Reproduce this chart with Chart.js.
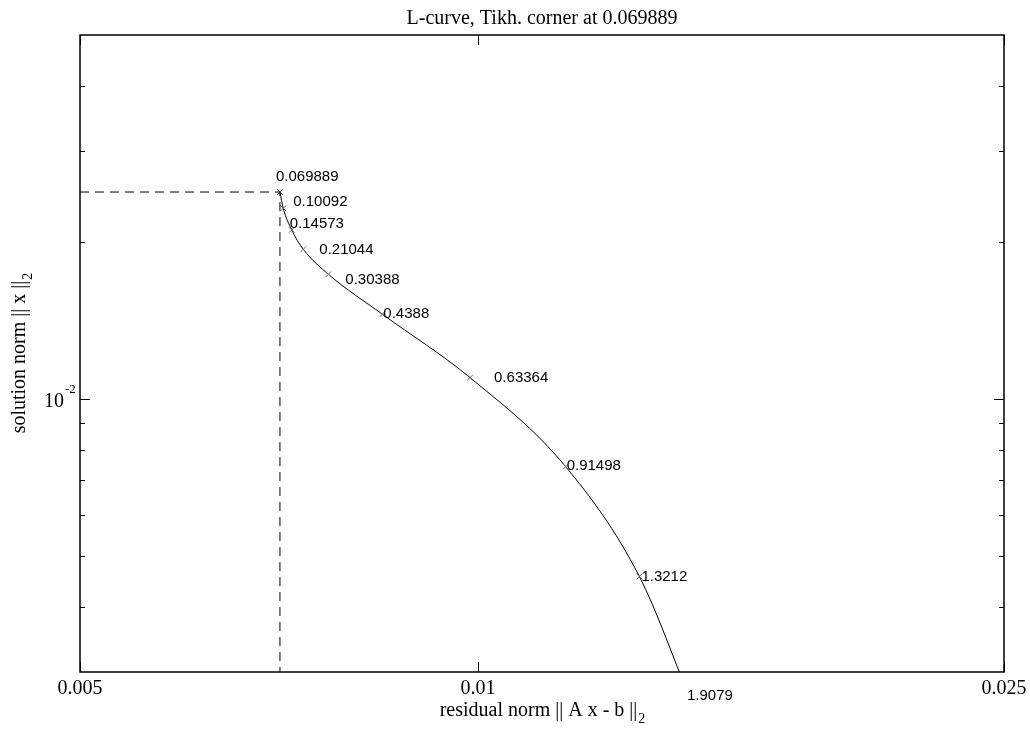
<!DOCTYPE html>
<html>
<head>
<meta charset="utf-8">
<script src="https://cdn.jsdelivr.net/npm/chart.js@4"></script>
<style>
  html, body { margin: 0; padding: 0; background: #fff; }
  #wrap { width: 1030px; height: 731px; position: relative; }
</style>
</head>
<body>
<div id="wrap"><canvas id="lc"></canvas></div>
<script>
// Tikhonov L-curve: residual norm vs. solution norm, labelled by regularization parameter
const regParams    = [0.069889, 0.10092, 0.14573, 0.21044, 0.30388, 0.4388, 0.63364, 0.91498, 1.3212, 1.9079];
const residualNorm = [0.007083, 0.007124, 0.007230, 0.007377, 0.007706, 0.008466, 0.009863, 0.011651, 0.013248, 0.014443];
const solutionNorm = [0.02499, 0.02326, 0.02113, 0.01941, 0.01738, 0.01457, 0.01101, 0.00743, 0.004573, 0.002700];
const cornerIndex = 0;

const xLimits = [0.005, 0.025];
const yLimits = [0.003, 0.05];
const xTicks = [0.005, 0.01, 0.025];
const xTickLabels = ['0.005', '0.01', '0.025'];
const yMajorTicks = [0.01];
const yMajorLabels = [['10', '-2']];
const yMinorTicks = [0.004, 0.005, 0.006, 0.007, 0.008, 0.009, 0.02, 0.03, 0.04];

const titleText = 'L-curve, Tikh. corner at ' + regParams[cornerIndex];
const xLabelText = ['residual norm || A x - b ||', '2'];
const yLabelText = ['solution norm || x ||', '2'];

const SERIF = '"Liberation Serif", "Times New Roman", serif';
const SANS = '"Liberation Sans", Arial, sans-serif';

// pixel nudges for the parameter labels, so they do not sit on the curve
const labelNudge = [[-4, -15], [10, -6], [-2, -6], [16, 1], [17, 6], [1, 0], [24, 0], [1, -1], [2, 0], [-2, 0]];

const curvePoints = residualNorm.map((r, i) => ({ x: r, y: solutionNorm[i] }));
const cornerGuide = [
  { x: xLimits[0], y: solutionNorm[cornerIndex] },
  { x: residualNorm[cornerIndex], y: solutionNorm[cornerIndex] },
  { x: residualNorm[cornerIndex], y: yLimits[0] }
];

function drawSubscripted(ctx, parts, size, subSize, subDrop) {
  ctx.font = size + 'px ' + SERIF;
  const w1 = ctx.measureText(parts[0]).width;
  ctx.font = subSize + 'px ' + SERIF;
  const w2 = ctx.measureText(parts[1]).width;
  const start = -(w1 + w2) / 2;
  ctx.textAlign = 'left';
  ctx.textBaseline = 'alphabetic';
  ctx.font = size + 'px ' + SERIF;
  ctx.fillText(parts[0], start, 0);
  ctx.font = subSize + 'px ' + SERIF;
  ctx.fillText(parts[1], start + w1 + 1, subDrop);
}

const axesFrame = {
  id: 'axesFrame',
  afterDraw(chart) {
    const { ctx, chartArea: a, scales: { x, y } } = chart;
    const majorLen = 10, minorLen = 5;
    ctx.save();
    ctx.strokeStyle = '#000';
    ctx.fillStyle = '#000';

    // inward tick marks on all four sides
    ctx.lineWidth = 1;
    ctx.beginPath();
    xTicks.forEach(v => {
      const px = Math.round(x.getPixelForValue(v)) + 0.5;
      ctx.moveTo(px, a.bottom); ctx.lineTo(px, a.bottom - majorLen);
      ctx.moveTo(px, a.top); ctx.lineTo(px, a.top + majorLen);
    });
    yMajorTicks.forEach(v => {
      const py = Math.round(y.getPixelForValue(v)) + 0.5;
      ctx.moveTo(a.left, py); ctx.lineTo(a.left + majorLen, py);
      ctx.moveTo(a.right, py); ctx.lineTo(a.right - majorLen, py);
    });
    yMinorTicks.forEach(v => {
      const py = Math.round(y.getPixelForValue(v)) + 0.5;
      ctx.moveTo(a.left, py); ctx.lineTo(a.left + minorLen, py);
      ctx.moveTo(a.right, py); ctx.lineTo(a.right - minorLen, py);
    });
    ctx.stroke();

    // axes box
    ctx.lineWidth = 1.5;
    ctx.strokeRect(a.left, a.top, a.right - a.left, a.bottom - a.top);

    // x tick labels
    ctx.font = '20px ' + SERIF;
    ctx.textAlign = 'center';
    ctx.textBaseline = 'alphabetic';
    xTicks.forEach((v, i) => ctx.fillText(xTickLabels[i], x.getPixelForValue(v), a.bottom + 22));

    // y tick labels with exponent
    yMajorTicks.forEach((v, i) => {
      const py = y.getPixelForValue(v);
      ctx.font = '20px ' + SERIF;
      ctx.textAlign = 'right';
      ctx.fillText(yMajorLabels[i][0], a.left - 16, py + 8);
      ctx.font = '13px ' + SERIF;
      ctx.textAlign = 'left';
      ctx.fillText(yMajorLabels[i][1], a.left - 15, py - 6);
    });

    // title
    ctx.font = '20px ' + SERIF;
    ctx.textAlign = 'center';
    ctx.fillText(titleText, (a.left + a.right) / 2, 24);

    // x axis label
    ctx.save();
    ctx.translate((a.left + a.right) / 2, a.bottom + 44);
    drawSubscripted(ctx, xLabelText, 20, 14, 7);
    ctx.restore();

    // y axis label
    ctx.save();
    ctx.translate(25, (a.top + a.bottom) / 2);
    ctx.rotate(-Math.PI / 2);
    drawSubscripted(ctx, yLabelText, 20, 14, 7);
    ctx.restore();

    // regularization parameter labels at the marked points
    ctx.font = '15px ' + SANS;
    ctx.textAlign = 'left';
    ctx.textBaseline = 'middle';
    regParams.forEach((p, i) => {
      const px = x.getPixelForValue(residualNorm[i]);
      const py = y.getPixelForValue(solutionNorm[i]);
      ctx.fillText(String(p), px + labelNudge[i][0], py + labelNudge[i][1]);
    });
    ctx.restore();
  }
};

new Chart(document.getElementById('lc'), {
  type: 'scatter',
  data: {
    datasets: [
      {
        label: 'corner',
        data: cornerGuide,
        showLine: true,
        borderColor: '#000',
        borderWidth: 1,
        borderDash: [9, 6],
        pointRadius: 0,
        clip: 0
      },
      {
        label: 'L-curve',
        data: curvePoints,
        showLine: true,
        borderColor: '#000',
        borderWidth: 1,
        cubicInterpolationMode: 'monotone',
        pointStyle: 'crossRot',
        pointRadius: 4,
        pointBorderColor: '#666',
        pointBorderWidth: 1,
        pointBackgroundColor: 'rgba(0,0,0,0)',
        clip: 0
      }
    ]
  },
  options: {
    responsive: true,
    maintainAspectRatio: false,
    animation: false,
    events: [],
    layout: { padding: { left: 80, top: 35, right: 26, bottom: 59 } },
    scales: {
      x: { type: 'logarithmic', min: xLimits[0], max: xLimits[1], display: false },
      y: { type: 'logarithmic', min: yLimits[0], max: yLimits[1], display: false }
    },
    plugins: {
      legend: { display: false },
      tooltip: { enabled: false },
      title: { display: false }
    }
  },
  plugins: [axesFrame]
});
</script>
</body>
</html>
